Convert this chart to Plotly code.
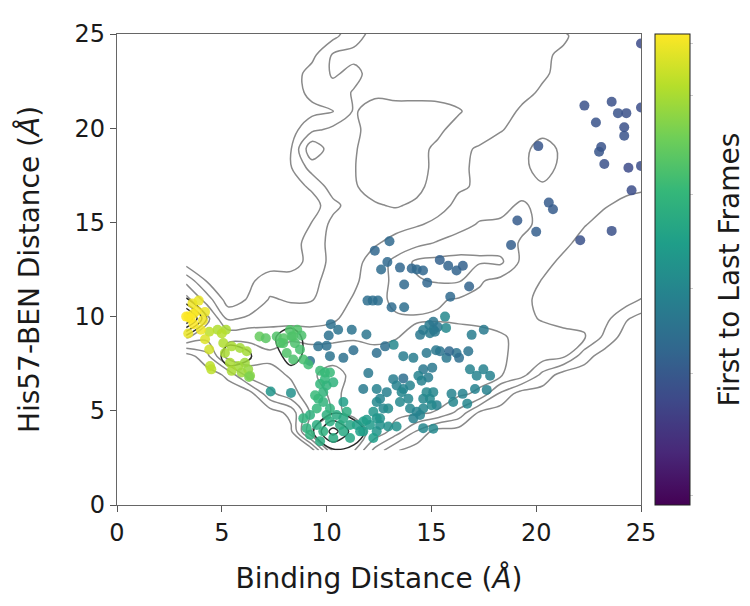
import plotly.graph_objects as go

# ---------------- free-energy style landscape (gray contour lines) ----------------
grid_x = [3.3, 4.3, 5.3, 6.3, 7.3, 8.3, 9.3, 10.3, 11.3, 12.3, 13.3, 14.3,
          15.3, 16.3, 17.3, 18.3, 19.3, 20.3, 21.3, 22.3, 23.3, 24.3, 25.3]
grid_y = [2.9, 3.9, 4.9, 5.9, 6.9, 7.9, 8.9, 9.9, 10.9, 11.9, 12.9, 13.9,
          14.9, 15.9, 16.9, 17.9, 18.9, 19.9, 20.9, 21.9, 22.9, 23.9, 24.9, 25.9]
depth_gray = [
    [0, 0, 0, 0, 0, 0, 0, 4.6, 4.6, 2.2, 0.6, 0, 0, 0, 0, 0, 0, 0, 0, 0, 0, 0, 0],
    [0, 0, 0, 0, 0, 0.3, 4.6, 5.0, 4.8, 4.3, 3.0, 1.4, 0, 0, 0, 0, 0, 0, 0, 0, 0, 0, 0],
    [0, 0, 0, 0, 0, 0.8, 3.8, 4.6, 4.4, 4.0, 3.8, 3.7, 3.4, 2.2, 0.3, 0, 0, 0, 0, 0, 0, 0, 0],
    [0, 0, 0, 0, 2.2, 3.2, 4.0, 4.7, 4.2, 4.0, 4.1, 4.2, 4.0, 3.7, 3.3, 1.3, 0, 0, 0, 0, 0, 0, 0],
    [0, 0, 0.7, 3.0, 3.2, 3.6, 4.4, 4.8, 4.3, 4.1, 4.3, 4.4, 4.3, 4.1, 3.9, 3.6, 2.9, 1.2, 0, 0, 0, 0, 0],
    [0, 1.2, 4.0, 4.0, 3.7, 4.2, 4.3, 4.2, 4.0, 3.8, 3.9, 4.1, 4.2, 4.1, 4.0, 3.6, 3.3, 3.0, 2.7, 0.9, 0, 0, 0],
    [3.6, 2.8, 3.3, 3.3, 3.1, 3.3, 3.0, 3.2, 3.4, 3.3, 3.45, 3.8, 4.0, 4.0, 3.9, 3.6, 3.3, 3.0, 2.7, 2.6, 1.2, 0, 0],
    [3.9, 3.8, 1.3, 1.7, 2.0, 2.0, 2.1, 2.3, 3.0, 3.3, 3.4, 3.4, 3.4, 3.3, 3.2, 3.2, 2.8, 2.4, 2.3, 2.2, 1.8, 0.6, 0],
    [3.9, 2.0, 0, 0.6, 1.6, 1.4, 1.45, 2.0, 2.6, 3.2, 3.7, 3.9, 3.6, 3.4, 3.3, 3.2, 2.7, 2.3, 2.2, 2.2, 2.2, 2.0, 1.2],
    [2.2, 0.4, 0, 0.3, 1.0, 1.0, 1.3, 1.8, 2.3, 3.1, 3.7, 4.4, 4.6, 4.6, 3.6, 3.2, 3.0, 2.45, 2.3, 2.2, 2.2, 2.2, 2.2],
    [0, 0, 0, 0, 0, 0, 0.9, 1.8, 2.2, 2.9, 3.8, 4.7, 4.8, 4.8, 4.6, 4.7, 3.3, 2.8, 2.3, 2.2, 2.2, 2.2, 2.2],
    [0, 0, 0, 0, 0, 0, 1.0, 1.8, 2.1, 2.4, 2.8, 3.2, 3.6, 4.0, 4.3, 4.0, 3.4, 3.2, 2.7, 2.2, 2.2, 2.2, 2.2],
    [0, 0, 0, 0, 0, 0, 0.55, 1.8, 2.0, 2.1, 2.2, 2.4, 2.7, 3.1, 3.6, 3.6, 3.7, 3.3, 3.1, 2.55, 2.2, 2.2, 2.2],
    [0, 0, 0, 0, 0, 0, 0, 1.2, 2.0, 1.6, 1.4, 1.7, 2.2, 2.7, 3.0, 3.3, 3.6, 3.3, 3.1, 3.0, 2.55, 2.3, 2.2],
    [0, 0, 0, 0, 0, 0, 0.7, 2.0, 1.6, 1.1, 1.1, 1.2, 2.0, 2.4, 2.6, 2.9, 3.2, 3.4, 3.2, 3.1, 3.0, 2.7, 2.6],
    [0, 0, 0, 0, 0, 0.45, 1.9, 2.0, 1.55, 1.0, 1.0, 1.1, 1.8, 2.3, 2.7, 2.9, 3.3, 3.8, 3.3, 3.0, 3.0, 3.0, 3.0],
    [0, 0, 0, 0, 0, 0.45, 3.3, 1.9, 1.6, 1.0, 1.0, 1.2, 1.7, 2.3, 2.6, 2.9, 3.2, 3.9, 3.3, 3.1, 3.0, 3.0, 3.0],
    [0, 0, 0, 0, 0, 0.1, 1.3, 1.8, 1.7, 1.1, 1.0, 1.0, 1.3, 1.9, 2.1, 2.45, 2.8, 3.2, 3.1, 3.0, 3.0, 3.0, 3.0],
    [0, 0, 0, 0, 0, 0, 0.2, 0.4, 1.6, 1.1, 1.0, 1.0, 1.1, 1.4, 2.0, 2.2, 2.6, 2.9, 3.0, 3.0, 3.0, 3.0, 3.0],
    [0, 0, 0, 0, 0, 0, 0.8, 1.2, 1.55, 1.7, 1.9, 1.9, 1.9, 2.0, 2.1, 2.2, 2.3, 2.6, 2.9, 3.0, 3.0, 3.0, 3.0],
    [0, 0, 0, 0, 0, 0, 0.9, 1.6, 1.3, 1.8, 2.0, 2.0, 2.0, 2.1, 2.1, 2.2, 2.3, 2.4, 2.7, 2.9, 3.0, 3.0, 3.0],
    [0, 0, 0, 0, 0, 0, 0.2, 1.6, 1.7, 1.9, 2.0, 2.0, 2.0, 2.1, 2.1, 2.2, 2.3, 2.4, 2.6, 2.9, 3.0, 3.0, 3.0],
    [0, 0, 0, 0, 0, 0, 0, 0.2, 1.2, 1.8, 2.0, 2.0, 2.0, 2.1, 2.1, 2.2, 2.3, 2.35, 2.4, 2.8, 3.0, 3.0, 3.0],
    [0, 0, 0, 0, 0, 0, 0, 0, 0.7, 1.6, 2.0, 2.0, 1.7, 2.0, 2.1, 2.2, 2.6, 2.8, 2.9, 3.0, 3.0, 3.0, 3.0],
]

# ---------------- deep minima (dark contour lines) ----------------
core_x = [3.3, 4.3, 5.3, 6.3, 7.3, 8.3, 9.3, 10.3, 11.3, 12.3]
core_y = [2.9, 3.9, 4.9, 5.9, 6.9, 7.9, 8.9, 9.9, 10.9, 11.9]
depth_core = [
    [0, 0, 0, 0, 0, 0, 0, 0.3, 0.3, 0],
    [0, 0, 0, 0, 0, 0, 0.3, 3.0, 1.0, 0],
    [0, 0, 0, 0, 0, 0, 0, 0.4, 0.2, 0],
    [0, 0, 0, 0, 0, 0, 0, 0, 0, 0],
    [0, 0, 0.1, 0.1, 0, 0, 0, 0, 0, 0],
    [0, -0.3, 0.9, 0.6, -0.2, 1.0, 0, 0, 0, 0],
    [0, 0, 0.2, 0.2, 0.3, 1.0, 0, 0, 0, 0],
    [4.8, 0.4, 0, 0, 0, 0, 0, 0, 0, 0],
    [0.55, 0, 0, 0, 0, 0, 0, 0, 0, 0],
    [0, 0, 0, 0, 0, 0, 0, 0, 0, 0],
]

# ---------------- trajectory frames ----------------
binding_dist = [
    25.0, 22.3, 23.6, 23.9, 24.3, 25.0, 22.85, 24.2, 24.2, 23.1, 23.0, 23.25, 24.4, 25.0, 20.1, 24.55,
    23.6, 22.1, 20.6, 20.8, 19.1, 20.0, 18.8,
    13.0, 12.3, 15.4, 15.8, 16.2, 16.5, 16.8, 14.8, 15.9, 13.7, 12.9, 12.6, 13.5, 14.06, 14.3, 14.6,
    13.1, 13.7, 11.95, 12.2, 12.45,
    15.65, 14.9, 15.1, 15.3, 15.7, 17.5, 13.2, 10.2, 10.55, 10.1, 11.2, 11.9, 10.0, 16.92, 15.09,
    14.61, 14.46, 14.93, 15.17,
    9.6, 10.16, 10.8, 11.28, 9.21, 12.39, 12.79, 11.99, 11.75, 16.2, 14.77, 15.41, 15.72, 13.66,
    14.61, 15.22, 15.85, 16.32, 16.76, 14.14, 15.04, 13.66, 14.85, 17.48, 17.8, 17.64, 16.49, 16.71,
    16.84, 17.16, 17.08,
    12.39, 12.55, 12.87, 12.39, 12.71, 13.18, 13.34, 13.66, 13.9, 13.5, 13.98, 14.3, 14.61, 14.93,
    15.25, 14.61, 14.46, 14.14, 13.58, 13.98, 14.77, 15.09, 14.53, 14.38, 15.01, 16.04, 15.96, 14.61,
    15.09, 13.34, 12.94,
    12.55, 12.39, 12.55, 12.39, 12.94, 11.91, 12.23, 11.44, 11.75, 12.07, 12.23, 11.75, 11.12, 11.6, 10.8,
    8.89, 9.21, 9.53, 9.84, 10.16, 10.48, 10.8, 9.21, 9.69, 10.32, 10.8, 11.12, 10.96, 9.05, 10.0, 10.64,
    9.69, 9.84, 9.6, 9.92, 10.16, 10.0, 9.45, 10.32, 9.84, 10.16, 9.53, 9.69, 9.92,
    7.33, 8.3,
    6.8, 7.62, 8.25, 8.33, 7.93, 8.49, 8.1, 8.73, 8.41, 8.89, 9.13, 8.6, 8.8, 8.4, 7.95, 7.8, 7.1,
    5.15, 5.47, 5.87, 6.19, 5.39, 5.79, 6.1, 5.07, 6.26, 6.35, 5.95, 5.47, 4.44, 4.5, 6.3, 4.8, 5.2, 4.4, 5.0,
    3.4, 3.65, 4.2, 3.3, 3.6, 3.8, 3.65, 4.0, 4.2, 3.4, 4.1, 3.9, 4.4, 3.5,
]
his57_dist = [
    24.5, 21.2, 21.4, 20.8, 20.8, 21.1, 20.3, 20.05, 19.6, 19.0, 18.75, 18.1, 17.9, 18.0, 19.05, 16.7,
    14.55, 14.05, 16.05, 15.7, 15.1, 14.5, 13.8,
    14.0, 13.5, 13.0, 12.7, 12.45, 12.7, 11.6, 11.8, 11.05, 11.7, 12.9, 12.5, 12.6, 12.55, 12.5, 12.45,
    10.5, 10.5, 10.85, 10.85, 10.85,
    10.0, 9.55, 9.3, 9.45, 9.4, 9.3, 8.5, 9.6, 9.3, 9.0, 9.3, 9.05, 8.45, 9.03, 9.73,
    9.29, 9.03, 9.12, 9.2,
    8.42, 7.9, 7.81, 8.21, 7.64, 8.07, 8.42, 7.0, 6.16, 8.07, 8.07, 8.16, 7.81, 7.9,
    7.2, 8.21, 8.16, 7.81, 8.16, 7.81, 7.29, 6.72, 6.77, 7.2, 6.86, 6.11, 5.9, 5.38,
    7.2, 6.86, 6.16,
    6.16, 5.64, 5.99, 5.47, 5.12, 6.68, 6.34, 6.16, 5.64, 5.47, 5.12, 4.95, 5.64, 5.64,
    5.3, 5.12, 4.78, 4.6, 5.99, 6.34, 5.99, 5.99, 6.6, 6.86, 5.3, 5.47, 5.9, 4.08,
    4.05, 4.17, 5.12,
    4.6, 3.91, 4.25, 4.6, 4.17, 4.52, 4.95, 4.25, 3.91, 4.25, 3.56, 4.43, 4.25, 3.91, 5.47,
    4.6, 4.78, 4.25, 3.91, 4.43, 4.78, 4.6, 3.73, 3.39, 3.56, 3.91, 3.56, 4.95, 4.08, 4.78, 4.25,
    6.42, 5.99, 5.64, 6.68, 7.03, 6.34, 5.82, 6.51, 5.47, 5.12, 5.12, 7.12, 7.03,
    6.02, 5.95,
    8.94, 8.94, 9.29, 8.94, 8.59, 8.59, 8.07, 8.25, 7.72, 7.72, 7.46, 9.3, 9.0, 8.95, 8.85, 8.6, 8.85,
    8.07, 8.42, 8.33, 8.16, 7.55, 7.38, 7.55, 8.6, 7.2, 6.86, 7.03, 7.12, 7.38, 7.2, 6.8, 9.3, 9.3, 9.2, 9.1,
    10.0, 10.15, 10.25, 10.0, 10.7, 10.3, 9.6, 9.3, 8.8, 9.1, 9.8, 10.85, 8.25, 9.9,
]
frame_frac = [
    0.23, 0.25, 0.25, 0.26, 0.25, 0.24, 0.26, 0.25, 0.26, 0.26, 0.27, 0.25, 0.23, 0.24, 0.27, 0.24,
    0.25, 0.25, 0.29, 0.29, 0.29, 0.30, 0.30,
    0.34, 0.33, 0.31, 0.32, 0.32, 0.31, 0.32, 0.33, 0.34, 0.34, 0.34, 0.35, 0.33, 0.33, 0.34, 0.33,
    0.35, 0.36, 0.36, 0.36, 0.36,
    0.47, 0.41, 0.41, 0.39, 0.47, 0.41, 0.47, 0.37, 0.38, 0.37, 0.38, 0.39, 0.37, 0.42, 0.39,
    0.41, 0.40, 0.41, 0.40,
    0.37, 0.38, 0.37, 0.36, 0.38, 0.36, 0.36, 0.40, 0.41, 0.38, 0.40, 0.38, 0.40, 0.42,
    0.40, 0.40, 0.34, 0.36, 0.38, 0.42, 0.40, 0.36, 0.42, 0.44, 0.44, 0.44, 0.45, 0.46,
    0.45, 0.45, 0.44,
    0.44, 0.45, 0.43, 0.47, 0.46, 0.42, 0.44, 0.45, 0.46, 0.47, 0.46, 0.45, 0.46, 0.47,
    0.45, 0.46, 0.45, 0.44, 0.46, 0.45, 0.47, 0.46, 0.44, 0.45, 0.47, 0.46, 0.45, 0.46,
    0.47, 0.50, 0.48,
    0.50, 0.52, 0.50, 0.52, 0.50, 0.54, 0.52, 0.56, 0.55, 0.54, 0.55, 0.56, 0.58, 0.56, 0.56,
    0.64, 0.63, 0.62, 0.63, 0.62, 0.61, 0.60, 0.64, 0.62, 0.61, 0.60, 0.59, 0.62, 0.64, 0.63, 0.61,
    0.66, 0.65, 0.66, 0.66, 0.67, 0.65, 0.67, 0.64, 0.65, 0.64, 0.66, 0.68, 0.67,
    0.52, 0.50,
    0.76, 0.72, 0.72, 0.71, 0.72, 0.71, 0.72, 0.70, 0.71, 0.70, 0.69, 0.72, 0.71, 0.72, 0.73, 0.72, 0.74,
    0.87, 0.87, 0.86, 0.86, 0.87, 0.86, 0.85, 0.88, 0.84, 0.82, 0.85, 0.87, 0.90, 0.90, 0.80, 0.88, 0.87, 0.90, 0.89,
    1.00, 0.99, 0.97, 1.00, 0.98, 0.99, 1.00, 0.98, 0.95, 0.97, 0.98, 0.97, 0.93, 1.00,
]

x_ticks = [0, 5, 10, 15, 20, 25]
y_ticks = [0, 5, 10, 15, 20, 25]

FONT = "DejaVu Sans"
TXT = "#1a1a1a"
fig = go.Figure()

fig.add_trace(go.Contour(
    x=grid_x, y=grid_y, z=depth_gray,
    autocontour=False,
    contours=dict(start=0.5, end=4.5, size=1, coloring="lines", showlabels=False),
    colorscale=[[0, "#8a8a8a"], [1, "#8a8a8a"]],
    line=dict(width=1.5, smoothing=1.0),
    showscale=False, hoverinfo="skip",
))
fig.add_trace(go.Contour(
    x=core_x, y=core_y, z=depth_core,
    autocontour=False,
    contours=dict(start=0.5, end=4.5, size=1, coloring="lines", showlabels=False),
    colorscale=[[0, "#2a2a2a"], [1, "#2a2a2a"]],
    line=dict(width=1.5, smoothing=1.0),
    showscale=False, hoverinfo="skip",
))
fig.add_trace(go.Scatter(
    x=binding_dist, y=his57_dist, mode="markers",
    marker=dict(
        size=10, color=frame_frac, colorscale="Viridis", cmin=0, cmax=1,
        opacity=0.85, line=dict(width=0),
        showscale=True,
        colorbar=dict(
            x=1.027, xanchor="left", xpad=0, y=0.5, yanchor="middle", ypad=0,
            len=1.0, lenmode="fraction", thickness=35, thicknessmode="pixels",
            outlinewidth=1, outlinecolor="#222",
            showticklabels=False, ticks="outside", ticklen=3, tickcolor="#cccccc",
            tickvals=[0.02, 0.28, 0.46, 0.66, 0.87, 0.98],
        ),
    ),
    hoverinfo="skip",
))

axis_common = dict(
    range=[0, 25], tickmode="array", ticks="outside", ticklen=6, tickwidth=1.3,
    tickcolor="#555", showline=True, linecolor="#666", linewidth=1.3, mirror=True,
    showgrid=False, zeroline=False,
    tickfont=dict(family=FONT, size=24, color=TXT),
)
fig.update_xaxes(**axis_common, tickvals=x_ticks,
                 title=dict(text="Binding Distance (<i>Å</i>)", standoff=22,
                            font=dict(family=FONT, size=28, color=TXT)))
fig.update_yaxes(**axis_common, tickvals=y_ticks,
                 title=dict(text="His57-BEN Distance (<i>Å</i>)", standoff=26,
                            font=dict(family=FONT, size=28, color=TXT)))

fig.add_annotation(
    text="First to Last Frames", textangle=-90,
    xref="paper", yref="paper", x=1.168, y=0.5, xanchor="center", yanchor="middle",
    showarrow=False, font=dict(family=FONT, size=28, color=TXT),
)

fig.update_layout(
    width=750, height=606,
    margin=dict(l=109, r=117, t=17, b=109),
    plot_bgcolor="white", paper_bgcolor="white",
    showlegend=False,
)

fig.write_html("out.html")
